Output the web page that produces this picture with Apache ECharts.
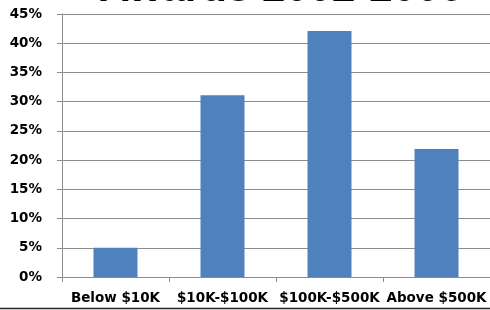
<!DOCTYPE html>
<html>
<head>
<meta charset="utf-8">
<script src="https://cdn.jsdelivr.net/npm/echarts@6/dist/echarts.min.js"></script>
<style>
html,body{margin:0;padding:0;background:#fff}
#main{width:490px;height:310px}
</style>
</head>
<body>
<div id="main"></div>
<script>
var categories = ['Below $10K', '$10K-$100K', '$100K-$500K', 'Above $500K']
var shares = [5.0, 31.1, 42.1, 21.9]
var titleText = 'Awards 2002-2006'

var box = document.getElementById('main')
var chart = echarts.init(box)

var labelFont = {
    color: '#000',
    fontFamily: 'DejaVu Sans',
    fontWeight: 'bold',
    fontSize: 13.5
}

var option = {
    animation: false,
    backgroundColor: '#fff',
    graphic: [{
        type: 'text',
        x: 281,
        y: 10,
        style: {
            text: titleText,
            align: 'center',
            verticalAlign: 'bottom',
            font: 'bold 42px "Liberation Sans"',
            fill: '#000'
        }
    }, {
        type: 'line',
        shape: { x1: 0, y1: 308.5, x2: 490, y2: 308.5 },
        style: { stroke: '#222', lineWidth: 1.5 }
    }],
    grid: { left: 62, right: 0, top: 14, bottom: 33 },
    xAxis: {
        type: 'category',
        data: categories,
        axisLine: { lineStyle: { color: '#8c8c8c', width: 1 } },
        axisTick: { show: true, length: 5, lineStyle: { color: '#8c8c8c' } },
        axisLabel: Object.assign({ margin: 14, interval: 0 }, labelFont)
    },
    yAxis: {
        type: 'value',
        min: 0,
        max: 45,
        interval: 5,
        axisLine: { show: true, lineStyle: { color: '#8c8c8c', width: 1 } },
        axisTick: { show: true, length: 5, lineStyle: { color: '#8c8c8c' } },
        splitLine: { lineStyle: { color: '#8c8c8c', width: 1 } },
        axisLabel: Object.assign({
            margin: 20,
            formatter: function(v) { return v + '%' }
        }, labelFont)
    },
    series: [{
        type: 'bar',
        data: shares,
        barWidth: 44,
        itemStyle: { color: '#4F81BD' }
    }]
}
chart.setOption(option)
</script>
</body>
</html>
